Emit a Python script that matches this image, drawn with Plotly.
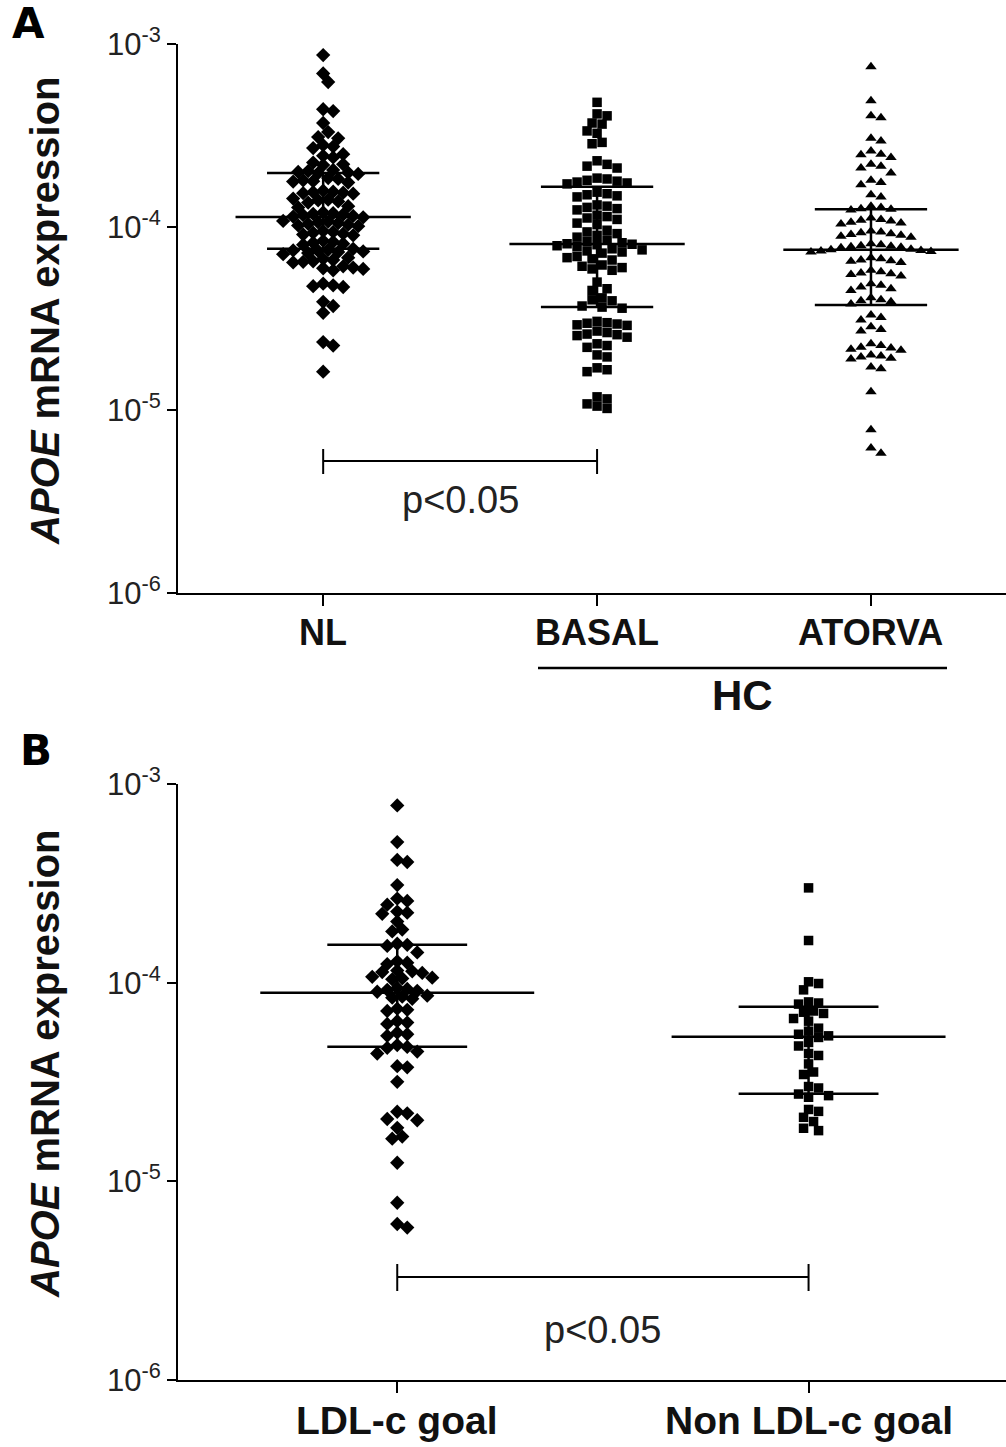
import numpy as np
import plotly.graph_objects as go

W, H = 1006, 1447
FONT = "Liberation Sans, Arial, sans-serif"

# ---------------- Panel A data ----------------
groups_A = ["NL", "BASAL", "ATORVA"]
nl_vals = [8.7e-4,
           6.9e-4, 6.2e-4,
           4.4e-4, 4.3e-4,
           3.7e-4,
           3.3e-4,
           3.1e-4, 3.05e-4,
           2.8e-4, 2.75e-4, 2.7e-4,
           2.5e-4, 2.45e-4, 2.4e-4,
           2.25e-4, 2.2e-4, 2.18e-4,
           2.05e-4, 2.02e-4, 2.0e-4, 1.98e-4, 1.97e-4, 1.95e-4,
           1.85e-4, 1.83e-4, 1.8e-4, 1.78e-4, 1.77e-4, 1.75e-4,
           1.58e-4, 1.56e-4, 1.55e-4, 1.54e-4, 1.53e-4, 1.52e-4,
           1.43e-4, 1.41e-4, 1.4e-4, 1.38e-4, 1.36e-4,
           1.3e-4, 1.28e-4,
           1.2e-4, 1.19e-4, 1.18e-4, 1.17e-4, 1.16e-4, 1.15e-4, 1.14e-4, 1.13e-4,
           1.08e-4, 1.07e-4, 1.06e-4, 1.05e-4, 1.04e-4, 1.03e-4, 1.02e-4, 1.01e-4,
           9.5e-5, 9.4e-5, 9.3e-5, 9.2e-5, 9.1e-5, 9.0e-5,
           8.4e-5, 8.3e-5, 8.2e-5, 8.1e-5, 8.0e-5,
           7.6e-5, 7.5e-5, 7.45e-5, 7.4e-5, 7.35e-5, 7.3e-5, 7.2e-5, 7.1e-5,
           6.8e-5, 6.7e-5, 6.6e-5, 6.5e-5, 6.45e-5, 6.4e-5,
           6.1e-5, 6.0e-5, 5.95e-5, 5.9e-5, 5.8e-5,
           4.9e-5, 4.8e-5, 4.75e-5, 4.7e-5,
           3.9e-5, 3.7e-5,
           3.4e-5,
           2.35e-5, 2.25e-5,
           1.62e-5]
basal_vals = [4.8e-4,
              4.15e-4, 4.05e-4,
              3.7e-4, 3.65e-4,
              3.35e-4, 3.25e-4,
              2.9e-4, 2.85e-4,
              2.3e-4, 2.2e-4, 2.15e-4, 2.1e-4,
              1.85e-4, 1.83e-4, 1.8e-4, 1.78e-4, 1.76e-4, 1.74e-4, 1.72e-4,
              1.55e-4, 1.52e-4, 1.5e-4, 1.48e-4, 1.46e-4,
              1.32e-4, 1.3e-4, 1.28e-4, 1.26e-4, 1.24e-4,
              1.16e-4, 1.14e-4, 1.12e-4, 1.1e-4,
              1.05e-4, 1.03e-4,
              9.6e-5, 9.4e-5, 9.2e-5, 9.0e-5, 8.8e-5,
              8.5e-5, 8.35e-5, 8.2e-5, 8.1e-5, 8.05e-5, 8.0e-5, 7.9e-5, 7.8e-5,
              7.6e-5, 7.5e-5, 7.4e-5, 7.3e-5, 7.2e-5,
              6.9e-5, 6.8e-5, 6.7e-5, 6.6e-5,
              6.2e-5, 6.1e-5, 6.0e-5, 5.9e-5, 5.8e-5,
              5.0e-5,
              4.6e-5, 4.5e-5,
              4.1e-5, 4.0e-5, 3.95e-5,
              3.7e-5, 3.65e-5, 3.6e-5,
              3.05e-5, 3.0e-5, 2.98e-5, 2.95e-5, 2.92e-5, 2.9e-5,
              2.7e-5, 2.65e-5, 2.6e-5, 2.58e-5, 2.55e-5, 2.5e-5,
              2.3e-5, 2.25e-5, 2.2e-5,
              2.0e-5, 1.95e-5,
              1.7e-5, 1.66e-5, 1.62e-5,
              1.18e-5, 1.15e-5,
              1.08e-5, 1.05e-5, 1.02e-5]
atorva_vals = [7.5e-4,
               4.9e-4,
               4.05e-4, 3.95e-4,
               3.05e-4, 2.95e-4,
               2.6e-4, 2.5e-4, 2.48e-4, 2.4e-4,
               2.2e-4, 2.15e-4, 2.1e-4,
               1.97e-4,
               1.8e-4, 1.75e-4, 1.7e-4,
               1.5e-4, 1.46e-4,
               1.3e-4, 1.28e-4, 1.26e-4, 1.25e-4, 1.24e-4,
               1.12e-4, 1.1e-4, 1.09e-4, 1.08e-4, 1.06e-4, 1.05e-4, 1.04e-4,
               9.5e-5, 9.4e-5, 9.3e-5, 9.2e-5, 9.1e-5, 9.0e-5, 8.9e-5, 8.8e-5,
               8.1e-5, 8.0e-5, 7.9e-5, 7.85e-5, 7.8e-5, 7.75e-5, 7.7e-5,
               7.55e-5, 7.5e-5, 7.45e-5, 7.4e-5, 7.35e-5, 7.3e-5,
               6.8e-5, 6.7e-5, 6.6e-5, 6.55e-5, 6.5e-5, 6.4e-5,
               5.8e-5, 5.7e-5, 5.6e-5, 5.55e-5, 5.5e-5, 5.4e-5,
               4.9e-5, 4.8e-5, 4.7e-5, 4.6e-5, 4.5e-5,
               4.1e-5, 4.0e-5, 3.95e-5, 3.9e-5, 3.8e-5,
               3.3e-5, 3.2e-5, 3.1e-5,
               2.85e-5, 2.75e-5, 2.7e-5,
               2.3e-5, 2.25e-5, 2.2e-5, 2.18e-5, 2.15e-5, 2.12e-5,
               2.0e-5, 1.97e-5, 1.95e-5, 1.92e-5, 1.9e-5,
               1.72e-5, 1.68e-5,
               1.26e-5,
               7.8e-6,
               6.2e-6, 5.8e-6]
center_A = [1.135e-4, 8.07e-5, 7.5e-5]
upper_A = [1.97e-4, 1.66e-4, 1.25e-4]
lower_A = [7.6e-5, 3.66e-5, 3.75e-5]

# ---------------- Panel B data ----------------
groups_B = ["LDL-c goal", "Non LDL-c goal"]
ldl_vals = [7.8e-4,
            5.1e-4,
            4.15e-4, 4.05e-4,
            3.1e-4,
            2.65e-4, 2.58e-4,
            2.47e-4,
            2.28e-4, 2.25e-4, 2.22e-4,
            2.03e-4,
            1.85e-4, 1.81e-4,
            1.57e-4, 1.55e-4, 1.53e-4,
            1.42e-4,
            1.28e-4, 1.26e-4, 1.24e-4,
            1.15e-4, 1.14e-4, 1.13e-4, 1.12e-4,
            1.07e-4, 1.06e-4, 1.05e-4, 1.04e-4,
            9.4e-5, 9.3e-5, 9.2e-5, 9.1e-5, 9.0e-5,
            8.6e-5, 8.5e-5, 8.4e-5, 8.3e-5,
            7.4e-5, 7.3e-5, 7.2e-5,
            6.4e-5, 6.3e-5, 6.2e-5,
            5.6e-5, 5.5e-5, 5.4e-5,
            4.85e-5, 4.75e-5, 4.7e-5,
            4.5e-5, 4.4e-5,
            3.8e-5, 3.75e-5,
            3.17e-5,
            2.24e-5, 2.2e-5,
            2.06e-5, 2.03e-5,
            1.86e-5,
            1.68e-5, 1.64e-5,
            1.24e-5,
            7.8e-6,
            6.1e-6, 5.85e-6]
nonldl_vals = [3.0e-4, 1.63e-4, 1.01e-4, 9.9e-5, 9.2e-5, 8.0e-5, 7.9e-5, 7.8e-5,
               7.2e-5, 7.1e-5, 7.0e-5, 6.6e-5, 6.4e-5, 5.9e-5, 5.7e-5, 5.5e-5,
               5.4e-5, 5.3e-5, 5.0e-5, 4.8e-5, 4.4e-5, 4.3e-5, 3.9e-5, 3.55e-5,
               3.45e-5, 3.0e-5, 2.95e-5, 2.75e-5, 2.7e-5, 2.65e-5, 2.3e-5, 2.25e-5,
               2.1e-5, 2.0e-5, 1.85e-5, 1.8e-5]
center_B = [8.9e-5, 5.35e-5]
upper_B = [1.55e-4, 7.57e-5]
lower_B = [4.76e-5, 2.76e-5]

ytick_vals = [1e-6, 1e-5, 1e-4, 1e-3]
ytick_text = ["10<sup>-6</sup>", "10<sup>-5</sup>", "10<sup>-4</sup>", "10<sup>-3</sup>"]

# ---------------- geometry (pixels) ----------------
XL = 178
A_TOP, A_BOT = 44, 593
B_TOP, B_BOT = 784, 1380
A_XR = [-0.53, 2.493]
B_XR = [-0.533, 1.48]


def py(p):
    return 1 - p / H


def swarm(vals, px_dec, px_unit, d=10.0, step=None):
    step = step or d / 2
    vals = np.asarray(vals, float)
    ys = np.log10(vals) * px_dec
    order = np.argsort(-vals, kind="stable")
    placed = []
    offs = np.zeros(len(vals))
    cands = [0.0]
    for k in range(1, 60):
        cands += [k * step, -k * step]
    for i in order:
        y = ys[i]
        for c in cands:
            if all((c - ox) ** 2 + (y - oy) ** 2 >= d * d * 0.85 for ox, oy in placed):
                break
        placed.append((c, y))
        offs[i] = c
    return offs / px_unit


fig = go.Figure()

pxdecA = (A_BOT - A_TOP) / 3
pxunitA = (W - XL) / (A_XR[1] - A_XR[0])
pxdecB = (B_BOT - B_TOP) / 3
pxunitB = (W - XL) / (B_XR[1] - B_XR[0])

sym_A = ["diamond", "square", "triangle-up"]
size_A = [11, 9.5, 10]
for i, (vals, sym, sz) in enumerate(zip([nl_vals, basal_vals, atorva_vals], sym_A, size_A)):
    off = swarm(vals, pxdecA, pxunitA)
    fig.add_trace(go.Scatter(x=i + off, y=vals, mode="markers", xaxis="x", yaxis="y",
                             marker=dict(symbol=sym, size=sz, color="black", line=dict(width=0)),
                             showlegend=False, hoverinfo="y"))

sym_B = ["diamond", "square"]
size_B = [11, 9.5]
for i, (vals, sym, sz) in enumerate(zip([ldl_vals, nonldl_vals], sym_B, size_B)):
    off = swarm(vals, pxdecB, pxunitB)
    fig.add_trace(go.Scatter(x=i + off, y=vals, mode="markers", xaxis="x2", yaxis="y2",
                             marker=dict(symbol=sym, size=sz, color="black", line=dict(width=0)),
                             showlegend=False, hoverinfo="y"))


def summary_lines(centers, uppers, lowers, wmain, wcap):
    xs, ys = [], []
    for i, (c, u, l) in enumerate(zip(centers, uppers, lowers)):
        xs += [i - wmain, i + wmain, None, i - wcap, i + wcap, None,
               i - wcap, i + wcap, None, i, i, None]
        ys += [c, c, None, u, u, None, l, l, None, l, u, None]
    return xs, ys


xs, ys = summary_lines(center_A, upper_A, lower_A, 0.32, 0.205)
fig.add_trace(go.Scatter(x=xs, y=ys, mode="lines", xaxis="x", yaxis="y",
                         line=dict(color="black", width=2.5), showlegend=False, hoverinfo="skip"))
xs, ys = summary_lines(center_B, upper_B, lower_B, 0.333, 0.17)
fig.add_trace(go.Scatter(x=xs, y=ys, mode="lines", xaxis="x2", yaxis="y2",
                         line=dict(color="black", width=2.5), showlegend=False, hoverinfo="skip"))

axis_common = dict(showline=True, linecolor="black", linewidth=2, showgrid=False,
                   zeroline=False, ticks="outside", tickcolor="black", tickwidth=2,
                   automargin=False)
yaxis_common = dict(axis_common, type="log", range=[-6, -3], tickvals=ytick_vals,
                    ticktext=ytick_text, ticklen=9,
                    tickfont=dict(family=FONT, size=31, color="#222"))

fig.update_layout(
    template="none",
    width=W, height=H, margin=dict(l=0, r=0, t=0, b=0, pad=0, autoexpand=False),
    paper_bgcolor="white", plot_bgcolor="white",
    xaxis=dict(axis_common, domain=[XL / W, 1], range=A_XR, tickvals=[0, 1, 2],
               showticklabels=False, ticklen=11, anchor="y"),
    yaxis=dict(yaxis_common, domain=[py(A_BOT), py(A_TOP)], anchor="x"),
    xaxis2=dict(axis_common, domain=[XL / W, 1], range=B_XR, tickvals=[0, 1],
                showticklabels=False, ticklen=11, anchor="y2"),
    yaxis2=dict(yaxis_common, domain=[py(B_BOT), py(B_TOP)], anchor="x2"),
)

ann = []
# x category labels
for i, g in enumerate(groups_A):
    ann.append(dict(x=i, y=py(632), xref="x", yref="paper", text=g, showarrow=False,
                    font=dict(family=FONT, size=36, color="#111", weight="bold"),
                    xanchor="center", yanchor="middle"))
for i, g in enumerate(groups_B):
    ann.append(dict(x=i, y=py(1420), xref="x2", yref="paper", text=g, showarrow=False,
                    font=dict(family=FONT, size=39, color="#111", weight="bold"),
                    xanchor="center", yanchor="middle"))
# HC group
ann.append(dict(x=742 / W, y=py(695), xref="paper", yref="paper", text="HC", showarrow=False,
                font=dict(family=FONT, size=42, color="#111", weight="bold"),
                xanchor="center", yanchor="middle"))
# p values
ann.append(dict(x=0.5, y=py(500), xref="x", yref="paper", text="p&lt;0.05", showarrow=False,
                font=dict(family=FONT, size=38, color="#222"), xanchor="center", yanchor="middle"))
ann.append(dict(x=0.5, y=py(1330), xref="x2", yref="paper", text="p&lt;0.05", showarrow=False,
                font=dict(family=FONT, size=38, color="#222"), xanchor="center", yanchor="middle"))
# y titles
for yc in [311, 1064]:
    ann.append(dict(x=45 / W, y=py(yc), xref="paper", yref="paper",
                    text="<i>APOE</i> mRNA expression", textangle=-90, showarrow=False,
                    font=dict(family=FONT, size=40, color="#111", weight="bold"),
                    xanchor="center", yanchor="middle"))
# panel letters
LETTER_FONT = "DejaVu Sans, Verdana, sans-serif"
ann.append(dict(x=10 / W, y=py(24), xref="paper", yref="paper", text="A", showarrow=False,
                font=dict(family=LETTER_FONT, size=42, color="black", weight="bold"),
                xanchor="left", yanchor="middle"))
ann.append(dict(x=18 / W, y=py(750), xref="paper", yref="paper", text="B", showarrow=False,
                font=dict(family=LETTER_FONT, size=42, color="black", weight="bold"),
                xanchor="left", yanchor="middle"))
fig.update_layout(annotations=ann)

shapes = []
ln = dict(color="black", width=2)
# bracket A
shapes.append(dict(type="line", xref="x", yref="paper", x0=0, x1=1, y0=py(461), y1=py(461), line=ln))
for xx in [0, 1]:
    shapes.append(dict(type="line", xref="x", yref="paper", x0=xx, x1=xx, y0=py(449), y1=py(474), line=ln))
# bracket B
shapes.append(dict(type="line", xref="x2", yref="paper", x0=0, x1=1, y0=py(1277), y1=py(1277), line=ln))
for xx in [0, 1]:
    shapes.append(dict(type="line", xref="x2", yref="paper", x0=xx, x1=xx, y0=py(1264), y1=py(1291), line=ln))
# HC underline
shapes.append(dict(type="line", xref="paper", yref="paper", x0=538 / W, x1=947 / W,
                   y0=py(668), y1=py(668), line=dict(color="black", width=2.5)))
fig.update_layout(shapes=shapes)

fig.write_html("out.html", config={"displayModeBar": False},
               post_script="document.body.style.margin='0px';")
